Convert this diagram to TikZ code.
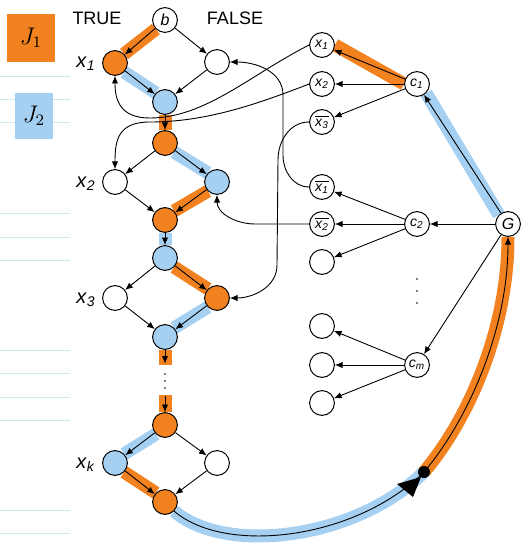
\documentclass[tikz,border=0pt]{standalone}
\usepackage{fontspec}
\setmainfont{Liberation Sans}
\usetikzlibrary{arrows.meta,backgrounds}
\definecolor{hlorange}{RGB}{242,130,32}
\definecolor{hlblue}{RGB}{165,208,242}
\definecolor{noteline}{RGB}{208,232,240}
\newcommand{\vx}[2]{\textit{#1}\textsubscript{\textit{#2}}}
\newcommand{\nvx}[2]{$\overline{\mbox{\vx{#1}{#2}}}$}

\begin{document}
\begin{tikzpicture}[x=0.5pt,y=-0.5pt,>={Latex[length=3.8pt,width=3.2pt]},
  vert/.style={draw, circle, minimum size=12.4pt, inner sep=0pt, line width=0.5pt, fill=white, font=\fontsize{7}{8}\selectfont},
  edge/.style={->, line width=0.45pt},
  tag/.style={font=\fontsize{9}{10}\selectfont},
  orangemark/.style={line width=6.5pt, hlorange},
  bluemark/.style={line width=6.5pt, hlblue}]
\useasboundingbox (0,0) rectangle (522,545);

% notebook lines and legend
\foreach \y in {77,100,123,213,237,260,350,373,397,420,510,533}
  \draw[noteline, line width=0.5pt] (0,\y) -- (70,\y);
\node (leg1) [fill=hlorange, minimum width=24pt, minimum height=24pt, font=\large] at (31,38) {$J_1$};
\node (leg2) [fill=hlblue, minimum width=19pt, minimum height=23pt, font=\large] at (34,116) {$J_2$};

% variable gadgets
\node (b) [vert, font=\fontsize{8}{9}\selectfont\itshape] at (165,20) {b};
\node [tag] at (97,18) {TRUE};
\node [tag] at (235,18) {FALSE};

\node (t1) [vert, fill=hlorange] at (115,63) {};
\node (f1) [vert] at (217,62) {};
\node (j1) [vert, fill=hlblue] at (165,102) {};
\node (s2) [vert, fill=hlorange] at (165,143) {};
\node (t2) [vert] at (115,182) {};
\node (f2) [vert, fill=hlblue] at (217,182) {};
\node (j2) [vert, fill=hlorange] at (165,220) {};
\node (s3) [vert, fill=hlblue] at (165,258) {};
\node (t3) [vert] at (115,298) {};
\node (f3) [vert, fill=hlorange] at (217,298) {};
\node (j3) [vert, fill=hlblue] at (165,337) {};
\node (dots) [inner sep=0pt, minimum height=16pt] at (165,380) {};
\node (sk) [vert, fill=hlorange] at (165,425) {};
\node (tk) [vert, fill=hlblue] at (115,463) {};
\node (fk) [vert] at (217,463) {};
\node (jk) [vert, fill=hlorange] at (165,502) {};

\node [tag, font=\fontsize{10}{11}\selectfont] at (86,64) {\vx{x}{1}};
\node [tag, font=\fontsize{10}{11}\selectfont] at (86,184) {\vx{x}{2}};
\node [tag, font=\fontsize{10}{11}\selectfont] at (86,300) {\vx{x}{3}};
\node [tag, font=\fontsize{10}{11}\selectfont] at (86,465) {\vx{x}{k}};
\foreach \y in {374,381,388} \fill (165,\y) circle (0.9);

% literal nodes
\node (l1) [vert] at (322,45) {\vx{x}{1}};
\node (l2) [vert] at (322,84) {\vx{x}{2}};
\node (n3) [vert] at (322,122) {\nvx{x}{3}};
\node (n1) [vert] at (322,187) {\nvx{x}{1}};
\node (n2) [vert] at (322,224) {\nvx{x}{2}};
\node (e1) [vert] at (322,262) {};
\node (e2) [vert] at (322,326) {};
\node (e3) [vert] at (322,365) {};
\node (e4) [vert] at (322,403) {};

% clause nodes
\node (c1) [vert] at (417,84) {\vx{c}{1}};
\node (c2) [vert] at (417,224) {\vx{c}{2}};
\node (cm) [vert] at (417,365) {\vx{c}{m}};
\node (g) [vert, font=\fontsize{8}{9}\selectfont\itshape] at (508,224) {G};
\foreach \y in {279,291,303} \fill (417,\y) circle (0.9);
\coordinate (mid) at (424,472);

% highlights
\begin{scope}[on background layer]
  \draw[orangemark] (b.south west) -- (t1.north east);
  \draw[bluemark] (t1.south east) -- (j1.north west);
  \draw[orangemark] (j1.south) -- (s2.north);
  \draw[bluemark] (s2.south east) -- (f2.north west);
  \draw[orangemark] (f2.south west) -- (j2.north east);
  \draw[bluemark] (j2.south) -- (s3.north);
  \draw[orangemark] (s3.south east) -- (f3.north west);
  \draw[bluemark] (f3.south west) -- (j3.north east);
  \draw[orangemark] (j3.south) -- (165,365);
  \draw[orangemark] (165,395) -- (sk.north);
  \draw[bluemark] (sk.south west) -- (tk.north east);
  \draw[orangemark] (tk.south east) -- (jk.north west);
  \draw[bluemark] (jk.south east) .. controls (225,555) and (355,540) .. (mid);
  \draw[orangemark] (mid) .. controls (468,420) and (508,330) .. (g.south);
  \draw[bluemark] (g.north west) -- (c1.south east);
  \draw[orangemark] (c1.west) -- (l1.east);
\end{scope}

% gadget edges
\draw[edge] (b) -- (t1);
\draw[edge] (b) -- (f1);
\draw[edge] (t1) -- (j1);
\draw[edge] (f1) -- (j1);
\draw[edge] (j1) -- (s2);
\draw[edge] (s2) -- (t2);
\draw[edge] (s2) -- (f2);
\draw[edge] (t2) -- (j2);
\draw[edge] (f2) -- (j2);
\draw[edge] (j2) -- (s3);
\draw[edge] (s3) -- (t3);
\draw[edge] (s3) -- (f3);
\draw[edge] (t3) -- (j3);
\draw[edge] (f3) -- (j3);
\draw[edge] (j3) -- (dots);
\draw[edge] (dots) -- (sk);
\draw[edge] (sk) -- (tk);
\draw[edge] (sk) -- (fk);
\draw[edge] (tk) -- (jk);
\draw[edge] (fk) -- (jk);

% literal to gadget
\draw[edge] (l1.west) .. controls (250,75) and (205,118) .. (150,118) .. controls (120,118) and (115,100) .. (t1.south);
\draw[edge] (l2.west) .. controls (255,105) and (205,122) .. (150,122) .. controls (118,122) and (115,140) .. (t2.north);
\draw[edge] (n1.west) to[out=180,in=-90] (283,155) -- (283,95) to[out=90,in=0] (f1.east);
\draw[edge] (n3.west) to[out=180,in=90] (278,160) -- (277,265) to[out=-90,in=0] (f3.east);
\draw[edge] (n2.west) -- (255,224) to[out=180,in=-90] (f2.south);

% clause edges
\draw[edge] (c1) -- (l1);
\draw[edge] (c1) -- (l2);
\draw[edge] (c1) -- (n3);
\draw[edge] (c2) -- (n1);
\draw[edge] (c2) -- (n2);
\draw[edge] (c2) -- (e1);
\draw[edge] (cm) -- (e2);
\draw[edge] (cm) -- (e3);
\draw[edge] (cm) -- (e4);
\draw[edge] (g) -- (c1);
\draw[edge] (g) -- (c2);
\draw[edge] (g) -- (cm);

% return arc
\draw[edge] (jk.south east) .. controls (225,555) and (355,540) .. (mid) .. controls (468,420) and (508,330) .. (g.south);
\fill (397,484) -- (413,497) -- (421,477) -- cycle;
\fill (mid) circle (6);
\end{tikzpicture}
\end{document}
